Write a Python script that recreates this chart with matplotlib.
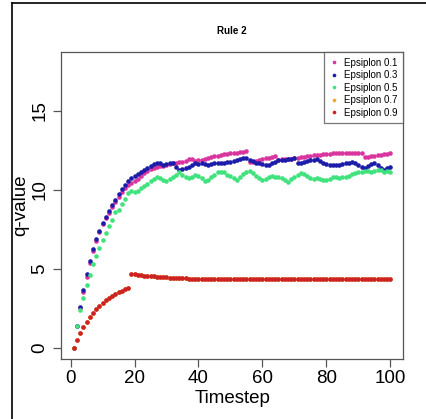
import matplotlib
matplotlib.use("Agg")
import matplotlib.pyplot as plt
from matplotlib.lines import Line2D

plt.rcParams['font.family'] = ['Liberation Sans', 'DejaVu Sans']

# timesteps 1..100
timestep = list(range(1, 101))

# q-values per epsilon
eps_01 = [0.0, 1.39, 2.50, 3.55, 4.47, 5.34, 6.14, 6.75, 7.30, 7.80,
          8.18, 8.55, 8.90, 9.22, 9.55, 9.85, 10.10, 10.30, 10.45, 10.58,
          10.70, 10.85, 11.05, 11.20, 11.28, 11.35, 11.42, 11.48, 11.52, 11.58,
          11.62, 11.66, 11.71, 11.74, 11.78, 11.84, 11.92, 11.95, 11.80, 11.85,
          11.88, 11.95, 12.00, 12.05, 12.13, 12.16, 12.20, 12.24, 12.27, 12.30,
          12.33, 12.35, 12.37, 12.40, 12.42, 11.75, 11.78, 11.82, 11.88, 11.94,
          11.98, 12.03, 12.08, 12.13, 11.90, 11.92, 11.93, 11.95, 11.97, 12.00,
          12.03, 12.06, 12.10, 12.13, 12.16, 12.18, 12.20, 12.22, 12.24, 12.26,
          12.28, 12.30, 12.32, 12.34, 12.32, 12.30, 12.30, 12.32, 12.33, 12.34,
          12.35, 12.05, 12.08, 12.12, 12.15, 12.18, 12.22, 12.25, 12.28, 12.30]

eps_03 = [0.0, 1.39, 2.59, 3.65, 4.64, 5.49, 6.27, 6.86, 7.39, 7.91,
          8.29, 8.67, 9.03, 9.35, 9.71, 10.03, 10.32, 10.55, 10.76, 10.89,
          10.98, 11.10, 11.25, 11.38, 11.50, 11.62, 11.72, 11.70, 11.56, 11.60,
          11.66, 11.67, 11.45, 11.25, 11.32, 11.40, 11.46, 11.55, 11.68, 11.62,
          11.67, 11.60, 11.58, 11.65, 11.66, 11.67, 11.72, 11.70, 11.74, 11.77,
          11.80, 11.88, 11.95, 12.02, 11.98, 11.90, 11.82, 11.72, 11.67, 11.62,
          11.58, 11.56, 11.68, 11.78, 11.88, 11.85, 11.90, 11.94, 11.96, 11.98,
          11.70, 11.67, 11.77, 11.82, 11.86, 11.90, 11.92, 11.80, 11.70, 11.62,
          11.56, 11.58, 11.55, 11.56, 11.62, 11.68, 11.72, 11.77, 11.70, 11.55,
          11.45, 11.39, 11.50, 11.60, 11.67, 11.55, 11.40, 11.25, 11.38, 11.42]

eps_05 = [0.0, 1.39, 2.39, 3.16, 3.97, 4.62, 5.28, 5.80, 6.33, 6.82,
          7.24, 7.70, 8.08, 8.57, 8.71, 9.09, 9.39, 9.77, 9.94, 9.87,
          9.95, 10.10, 10.25, 10.35, 10.55, 10.70, 10.78, 10.72, 10.62, 10.57,
          10.68, 10.80, 10.95, 11.12, 10.93, 10.80, 10.72, 10.82, 10.93, 10.89,
          10.75, 10.57, 10.62, 10.78, 10.95, 11.10, 11.14, 11.10, 10.95, 10.85,
          10.72, 10.62, 10.80, 11.00, 11.14, 11.18, 11.05, 10.90, 10.75, 10.62,
          10.68, 10.78, 10.85, 10.80, 10.82, 10.75, 10.62, 10.52, 10.65, 10.80,
          10.95, 11.04, 11.00, 10.88, 10.72, 10.68, 10.75, 10.65, 10.62, 10.60,
          10.70, 10.82, 10.78, 10.72, 10.80, 10.82, 10.90, 10.98, 11.08, 11.14,
          11.15, 11.18, 11.20, 11.12, 11.20, 11.25, 11.22, 11.10, 11.18, 11.14]

eps_09 = [0.0, 0.49, 0.93, 1.31, 1.65, 1.94, 2.19, 2.43, 2.64, 2.83,
          3.00, 3.15, 3.27, 3.40, 3.50, 3.60, 3.69, 3.75, 4.66, 4.64,
          4.61, 4.59, 4.57, 4.55, 4.53, 4.51, 4.50, 4.48, 4.47, 4.45,
          4.44, 4.43, 4.42, 4.41, 4.40, 4.39, 4.38, 4.38, 4.37, 4.37,
          4.36, 4.36, 4.36, 4.35, 4.35, 4.35, 4.35, 4.34, 4.34, 4.34,
          4.34, 4.34, 4.34, 4.34, 4.34, 4.34, 4.34, 4.34, 4.34, 4.34,
          4.34, 4.34, 4.34, 4.34, 4.34, 4.34, 4.34, 4.34, 4.34, 4.34,
          4.34, 4.34, 4.34, 4.34, 4.34, 4.34, 4.34, 4.34, 4.34, 4.34,
          4.34, 4.34, 4.34, 4.34, 4.34, 4.34, 4.34, 4.34, 4.34, 4.34,
          4.34, 4.34, 4.34, 4.34, 4.34, 4.34, 4.34, 4.34, 4.34, 4.34]

# 0.7 is not visible in the picture, it sits under 0.9
eps_07 = list(eps_09)

labels = ["Epsiplon 0.1", "Epsiplon 0.3", "Epsiplon 0.5", "Epsiplon 0.7", "Epsiplon 0.9"]
colors = ["#d9359f", "#1c1caa", "#3fe27c", "#f2a33a", "#cc2222"]
series = [eps_01, eps_03, eps_05, eps_07, eps_09]

fig = plt.figure(figsize=(4.27, 4.19), dpi=100)
ax = fig.add_axes([0.143, 0.143, 0.801, 0.733])

for vals, col, lab in zip(series, colors, labels):
    ax.plot(timestep, vals, linestyle="none", marker="o", ms=3.3,
            mec="none", color=col, label=lab)

ax.set_xlim(-2.96, 103.96)
ax.set_ylim(-0.72, 18.72)
ax.set_xticks([0, 20, 40, 60, 80, 100])
ax.set_yticks([0, 5, 10, 15])

for s in ax.spines.values():
    s.set_color("#555555")
    s.set_linewidth(0.9)
ax.tick_params(length=6, width=0.9, color="#555555", labelsize=13.5, pad=3)
ax.tick_params(axis="x", pad=2)
plt.setp(ax.get_yticklabels(), rotation=90, va="center")

ax.set_xlabel("Timestep", fontsize=13.5, labelpad=2)
ax.set_ylabel("q-value", fontsize=13.5, labelpad=2)
ax.set_title("Rule 2", fontsize=7, fontweight="bold", pad=13)

leg = ax.legend(loc="upper right", fontsize=7, frameon=True, fancybox=False,
                borderaxespad=0, handlelength=0.8, handletextpad=0.6,
                labelspacing=0.25, borderpad=0.6, markerscale=0.8)
leg.get_frame().set_edgecolor("#555555")
leg.get_frame().set_linewidth(0.9)

# black frame lines at the left and top of the picture
fig.add_artist(Line2D([0.028, 0.028], [0, 0.993], color="black", lw=1.2))
fig.add_artist(Line2D([0.028, 1], [0.993, 0.993], color="black", lw=1.2))

plt.savefig("out.png", dpi=100)
